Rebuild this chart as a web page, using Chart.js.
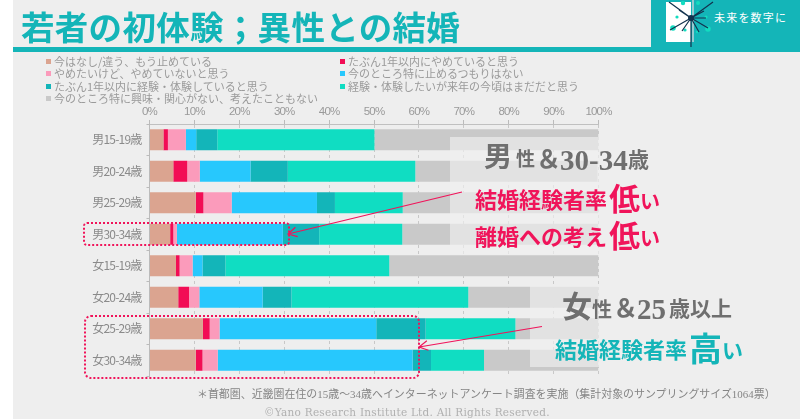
<!DOCTYPE html>
<html lang="ja">
<head>
<meta charset="utf-8">
<title>若者の初体験；異性との結婚</title>
<script src="https://cdn.jsdelivr.net/npm/chart.js@4/dist/chart.umd.min.js"></script>
<style>
html, body { margin: 0; padding: 0; }
body { width: 800px; height: 419px; background: #eeeeee; position: relative; overflow: hidden; font-family: "Noto Sans CJK JP", sans-serif; }
#wrap { position: absolute; left: 0; top: 0; width: 800px; height: 419px; }
.abs { position: absolute; white-space: nowrap; line-height: 1; }
.abs span { position: absolute; line-height: 1; }
#edge { left: 0; top: 0; width: 13px; height: 419px; background: #fff; }
#rule { left: 13px; top: 47px; width: 787px; height: 5px; background: #14b5b8; }
#badge { left: 651px; top: 0; width: 149px; height: 52px; background: #14b5b8; }
#title { left: 21px; top: 9px; font-size: 33.5px; font-weight: 700; color: #14b5b8; letter-spacing: .3px; }
#motto { left: 714px; top: 12px; font-size: 11px; color: #fff; letter-spacing: 1.2px; }
#legend div { position: absolute; font-size: 11px; line-height: 1; color: #9a9a9a; white-space: nowrap; }
#legend i { position: absolute; left: -8px; top: 3px; width: 5px; height: 5px; }
.grey { color: #6f6f6f; font-weight: 700; font-family: "Liberation Serif", "Noto Sans CJK JP", serif; }
.red { color: #f0145a; font-weight: 700; }
.teal { color: #14b5b8; font-weight: 700; }
#note { left: 197px; top: 389px; font-size: 10.95px; color: #858585; font-family: "Liberation Serif", "Noto Sans CJK JP", serif; }
#copy { left: 264px; top: 406.5px; font-size: 10.5px; color: #b0b0b0; font-family: "DejaVu Serif", serif; letter-spacing: .24px; }
</style>
</head>
<body>
<div id="wrap"><canvas id="chart" width="800" height="419"></canvas></div>
<div class="abs" id="edge"></div>
<div class="abs" id="rule"></div>
<div class="abs" id="badge"></div>
<svg class="abs" style="left:651px;top:0" width="149" height="52">
  <rect x="15" y="2" width="25" height="40" fill="#fff"/>
  <circle cx="22" cy="28" r="2.8" fill="#12dcc0"/><circle cx="32" cy="3" r="2.2" fill="#12dcc0"/>
  <circle cx="47" cy="3" r="2" fill="#12dcc0"/><circle cx="26" cy="17" r="1.6" fill="#12dcc0"/>
  <circle cx="34" cy="30" r="1.6" fill="#12dcc0"/><circle cx="57" cy="29" r="2.8" fill="#12dcc0"/>
  <circle cx="55" cy="17" r="1.6" fill="#12dcc0"/><circle cx="46" cy="32" r="1.2" fill="#12dcc0"/>
  <path d="M42 0V42" stroke="#c5d2d8" stroke-width="1.5"/>
  <path d="M40 18L18 2M40 18L62 2M40 18L19 30M40 18L57 28M40 18L28 10M40 18L53 11M40 18L55 18M40 18L31 31M40 18L48 32M40 18V47" stroke="#12324e" stroke-width="1.2"/>
  <circle cx="40" cy="18" r="3" fill="#12324e"/>
</svg>
<div class="abs" id="title">若者の初体験；異性との結婚</div>
<div class="abs" id="motto">未来を数字に</div>
<div id="legend"></div>

<div class="abs grey" style="left:0;top:0">
  <span style="left:484px;top:144px;font-size:28px">男</span>
  <span style="left:516px;top:150px;font-size:19px">性</span>
  <span style="left:536px;top:147px;font-size:25px">＆</span>
  <span style="left:560px;top:146px;font-size:29px">30-34</span>
  <span style="left:628px;top:150px;font-size:21px">歳</span>
</div>
<div class="abs red" style="left:0;top:0">
  <span style="left:475px;top:187px;font-size:22px">結婚経験者率</span>
  <span style="left:609px;top:181px;font-size:31px">低</span>
  <span style="left:640px;top:191px;font-size:20px">い</span>
  <span style="left:475px;top:224px;font-size:22px">離婚への考え</span>
  <span style="left:609px;top:218px;font-size:31px">低</span>
  <span style="left:640px;top:228px;font-size:20px">い</span>
</div>
<div class="abs grey" style="left:0;top:0">
  <span style="left:562px;top:292px;font-size:30px">女</span>
  <span style="left:592px;top:300px;font-size:20px">性</span>
  <span style="left:613px;top:296px;font-size:25px">＆</span>
  <span style="left:637px;top:295px;font-size:29px">25</span>
  <span style="left:669px;top:299px;font-size:21px">歳以上</span>
</div>
<div class="abs teal" style="left:0;top:0">
  <span style="left:555px;top:337px;font-size:22px">結婚経験者率</span>
  <span style="left:689px;top:331px;font-size:33px">高</span>
  <span style="left:722px;top:339px;font-size:21px">い</span>
</div>
<div class="abs" id="note">＊首都圏、近畿圏在住の15歳～34歳へインターネットアンケート調査を実施（集計対象のサンプリングサイズ1064票）</div>
<div class="abs" id="copy">©Yano Research Institute Ltd. All Rights Reserved.</div>
<script>
{
    const CATEGORIES = ["男15-19歳", "男20-24歳", "男25-29歳", "男30-34歳", "女15-19歳", "女20-24歳", "女25-29歳", "女30-34歳"];
    const TICKS = ["0%", "10%", "20%", "30%", "40%", "50%", "60%", "70%", "80%", "90%", "100%"];

    const SERIES_NAMES = [
        "今はなし/違う、もう止めている",
        "たぶん1年以内にやめていると思う",
        "やめたいけど、やめていないと思う",
        "今のところ特に止めるつもりはない",
        "たぶん1年以内に経験・体験していると思う",
        "経験・体験したいが来年の今頃はまだだと思う",
        "今のところ特に興味・関心がない、考えたこともない"
    ];
    const SERIES_COLORS = ["#dba490", "#f20d55", "#fb9bbb", "#27c8fd", "#13b5b9", "#10ddc2", "#c9c9c9"];

    const stopped = [3.1, 5.3, 10.3, 4.6, 5.9, 6.4, 11.9, 10.3];
    const quitSoon = [1.0, 3.1, 1.7, 0.7, 0.8, 2.4, 1.5, 1.5];
    const wantQuit = [4.0, 2.8, 6.3, 0.8, 2.9, 2.3, 2.2, 3.4];
    const keepGoing = [2.3, 11.3, 19.0, 23.6, 2.2, 14.1, 34.9, 43.4];
    const trySoon = [4.7, 8.3, 4.0, 8.1, 5.1, 6.4, 11.0, 4.1];
    const tryLater = [35.0, 28.4, 15.1, 18.5, 36.5, 39.4, 20.0, 11.8];
    const noInterest = [49.9, 40.6, 43.6, 43.7, 46.6, 29.0, 18.5, 25.5];

    const SERIES_VALUES = [stopped, quitSoon, wantQuit, keepGoing, trySoon, tryLater, noInterest];

    /* 凡例 */
    const LEGEND_POS = [[54, 56], [348, 56], [54, 68], [348, 68], [54, 81], [348, 81], [54, 93]];
    const LEGEND = document.getElementById("legend");
    SERIES_NAMES.forEach((name, i) => {
        const item = document.createElement("div");
        item.style.left = LEGEND_POS[i][0] + "px";
        item.style.top = LEGEND_POS[i][1] + "px";
        item.innerHTML = `<i style="background:${SERIES_COLORS[i]}"></i>${name}`;
        LEGEND.appendChild(item);
    });

    /* 薄いパネル、点線の枠、矢印 */
    const drawArrow = (ctx, x1, y1, x2, y2) => {
        const a = Math.atan2(y1 - y2, x1 - x2);
        ctx.beginPath();
        ctx.moveTo(x1, y1);
        ctx.lineTo(x2, y2);
        ctx.moveTo(x2 + 10 * Math.cos(a + 0.5), y2 + 10 * Math.sin(a + 0.5));
        ctx.lineTo(x2, y2);
        ctx.lineTo(x2 + 10 * Math.cos(a - 0.5), y2 + 10 * Math.sin(a - 0.5));
        ctx.stroke();
    };
    const OVERLAY = {
        id: "overlay",
        // 軸ラベルは元の図だと細い字なので字間を詰める
        beforeDraw(chart) {
            chart.ctx.letterSpacing = "-0.8px";
        },
        afterDraw(chart) {
            const { ctx } = chart;
            ctx.save();
            ctx.fillStyle = "rgba(240,240,240,0.65)";
            ctx.fillRect(450, 137, 149, 117);
            ctx.fillRect(530, 286, 69, 81);
            ctx.strokeStyle = "#f0145a";
            ctx.lineWidth = 2;
            ctx.setLineDash([2, 2]);
            ctx.beginPath();
            ctx.roundRect(84, 223, 205, 22, 3);
            ctx.stroke();
            ctx.beginPath();
            ctx.roundRect(85, 316, 334, 62, 6);
            ctx.stroke();
            ctx.setLineDash([]);
            ctx.lineWidth = 1.2;
            drawArrow(ctx, 462, 192, 288, 234);
            drawArrow(ctx, 542, 326.5, 419, 347);
            ctx.restore();
        }
    };

    document.addEventListener("DOMContentLoaded", () => {
        new Chart(document.getElementById("chart"), {
            type: "bar",
            data: {
                labels: CATEGORIES,
                datasets: SERIES_NAMES.map((name, i) => ({
                    label: name,
                    data: SERIES_VALUES[i],
                    backgroundColor: SERIES_COLORS[i],
                    barPercentage: 1,
                    categoryPercentage: 0.67
                }))
            },
            options: {
                indexAxis: "y",
                responsive: false,
                animation: false,
                layout: { autoPadding: false, padding: { left: 0, top: 0, right: 201.5, bottom: 43 } },
                plugins: { legend: { display: false }, tooltip: { enabled: false } },
                scales: {
                    x: {
                        position: "top",
                        stacked: true,
                        min: 0,
                        max: 100,
                        afterFit: scale => { scale.height = 124; },
                        afterBuildTicks: scale => { scale.ticks = TICKS.map((t, i) => ({ value: i * 10 })); },
                        ticks: {
                            callback: (value, i) => TICKS[i],
                            maxRotation: 0,
                            autoSkip: false,
                            padding: 1,
                            color: "#999999",
                            font: { family: "'Liberation Sans Narrow', 'Liberation Sans'", size: 11.5 }
                        },
                        grid: {
                            color: "#c8c8c8",
                            tickColor: "#bbbbbb",
                            tickLength: 4,
                            tickBorderDash: [],
                            drawOnChartArea: true
                        },
                        border: { color: "#c0c0c0", dash: [3, 3], display: true }
                    },
                    y: {
                        stacked: true,
                        afterFit: scale => { scale.width = 149.5; },
                        ticks: {
                            padding: 5,
                            color: "#8a8a8a",
                            font: { family: "'Noto Sans CJK JP'", size: 12 }
                        },
                        grid: { drawOnChartArea: false, offset: true, tickLength: 3, color: "#bbbbbb" },
                        border: { color: "#bbbbbb" }
                    }
                }
            },
            plugins: [OVERLAY]
        });
    });
}
</script>
</body>
</html>
